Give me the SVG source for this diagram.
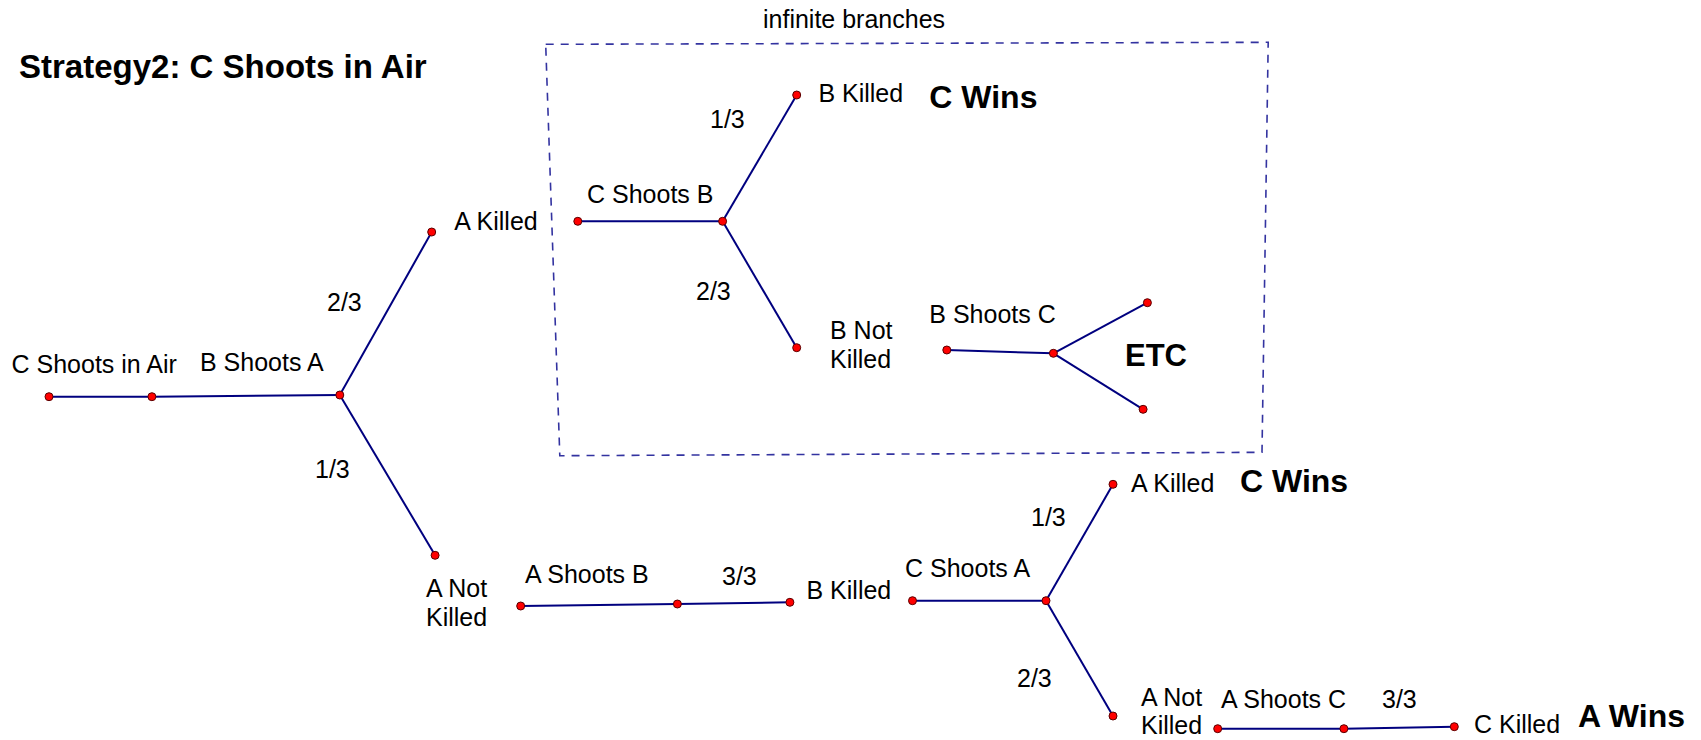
<svg xmlns="http://www.w3.org/2000/svg" width="1701" height="740" viewBox="0 0 1701 740">
<style>
.t{font-family:"Liberation Sans",Arial,sans-serif;font-size:25px;fill:#000}
.b{font-family:"Liberation Sans",Arial,sans-serif;font-size:32px;font-weight:bold;fill:#000}
.e{fill:none;stroke:#00007f;stroke-width:2;stroke-linejoin:round}
.d{fill:#ff0000;stroke:#5a0000;stroke-width:1}
.box{fill:none;stroke:#3333a0;stroke-width:1.6;stroke-dasharray:8 7}
</style>
<rect width="1701" height="740" fill="#fff"/>
<text class="b" x="19" y="78" style="font-size:33px">Strategy2: C Shoots in Air</text>
<text class="t" x="763" y="28">infinite branches</text>
<polygon class="box" points="545.7,44.3 1268.2,42.3 1262,452.3 559.8,455.7"/>
<g id="connectors">
<polyline class="e" points="49,396.7 151.9,396.7 339.8,395"/>
<line class="e" x1="339.8" y1="395" x2="431.7" y2="232"/>
<line class="e" x1="339.8" y1="395" x2="435.1" y2="555.3"/>
<line class="e" x1="577.8" y1="221.3" x2="722.6" y2="221.3"/>
<line class="e" x1="722.6" y1="221.3" x2="796.7" y2="95"/>
<line class="e" x1="722.6" y1="221.3" x2="796.7" y2="347.7"/>
<line class="e" x1="946.8" y1="350" x2="1053.4" y2="353.3"/>
<line class="e" x1="1053.4" y1="353.3" x2="1147.4" y2="302.7"/>
<line class="e" x1="1053.4" y1="353.3" x2="1143.1" y2="409.3"/>
<polyline class="e" points="520.7,606 677.4,604 789.9,602.3"/>
<line class="e" x1="912.5" y1="600.7" x2="1046" y2="600.7"/>
<line class="e" x1="1046" y1="600.7" x2="1113" y2="484.3"/>
<line class="e" x1="1046" y1="600.7" x2="1113" y2="716"/>
<polyline class="e" points="1217.7,728.7 1343.9,728.7 1454.3,726.7"/>
<text class="t" x="327" y="311">2/3</text>
<text class="t" x="315" y="478">1/3</text>
<text class="t" x="710" y="128">1/3</text>
<text class="t" x="696" y="300">2/3</text>
<text class="t" x="722" y="585">3/3</text>
<text class="t" x="1031" y="526">1/3</text>
<text class="t" x="1017" y="687">2/3</text>
<text class="t" x="1382" y="708">3/3</text>
</g>
<g id="n-c-air"><circle class="d" cx="49" cy="396.7" r="4"/><text class="t" x="11.5" y="373">C Shoots in Air</text></g>
<g id="n-b-shoots-a"><circle class="d" cx="151.9" cy="396.7" r="4"/><text class="t" x="200" y="371">B Shoots A</text></g>
<g id="n-j1"><circle class="d" cx="339.8" cy="395" r="4"/></g>
<g id="n-a-killed-1"><circle class="d" cx="431.7" cy="232" r="4"/><text class="t" x="454.3" y="230">A Killed</text></g>
<g id="n-a-notkilled-1"><circle class="d" cx="435.1" cy="555.3" r="4"/><text class="t" x="426" y="597">A Not</text><text class="t" x="426" y="626">Killed</text></g>
<g id="n-c-shoots-b"><circle class="d" cx="577.8" cy="221.3" r="4"/><text class="t" x="587" y="203">C Shoots B</text></g>
<g id="n-j2"><circle class="d" cx="722.6" cy="221.3" r="4"/></g>
<g id="n-b-killed-1"><circle class="d" cx="796.7" cy="95" r="4"/><text class="t" x="818.4" y="102">B Killed</text><text class="b" x="929.3" y="108">C Wins</text></g>
<g id="n-b-notkilled"><circle class="d" cx="796.7" cy="347.7" r="4"/><text class="t" x="830" y="339">B Not</text><text class="t" x="830" y="368">Killed</text></g>
<g id="n-b-shoots-c"><circle class="d" cx="946.8" cy="350" r="4"/><text class="t" x="929.3" y="323">B Shoots C</text></g>
<g id="n-j3"><circle class="d" cx="1053.4" cy="353.3" r="4"/></g>
<g id="n-etc1"><circle class="d" cx="1147.4" cy="302.7" r="4"/></g>
<g id="n-etc2"><circle class="d" cx="1143.1" cy="409.3" r="4"/><text class="b" x="1125" y="366" style="font-size:31px">ETC</text></g>
<g id="n-a-shoots-b"><circle class="d" cx="520.7" cy="606" r="4"/><text class="t" x="525" y="583">A Shoots B</text></g>
<g id="n-j4"><circle class="d" cx="677.4" cy="604" r="4"/></g>
<g id="n-b-killed-2"><circle class="d" cx="789.9" cy="602.3" r="4"/><text class="t" x="806.5" y="599">B Killed</text></g>
<g id="n-c-shoots-a"><circle class="d" cx="912.5" cy="600.7" r="4"/><text class="t" x="905" y="577">C Shoots A</text></g>
<g id="n-j5"><circle class="d" cx="1046" cy="600.7" r="4"/></g>
<g id="n-a-killed-2"><circle class="d" cx="1113" cy="484.3" r="4"/><text class="t" x="1131" y="492">A Killed</text><text class="b" x="1240" y="492">C Wins</text></g>
<g id="n-a-notkilled-2"><circle class="d" cx="1113" cy="716" r="4"/><text class="t" x="1141" y="706">A Not</text><text class="t" x="1141" y="734">Killed</text></g>
<g id="n-a-shoots-c"><circle class="d" cx="1217.7" cy="728.7" r="4"/><text class="t" x="1221" y="708">A Shoots C</text></g>
<g id="n-j6"><circle class="d" cx="1343.9" cy="728.7" r="4"/></g>
<g id="n-c-killed"><circle class="d" cx="1454.3" cy="726.7" r="4"/><text class="t" x="1474" y="733">C Killed</text><text class="b" x="1578" y="727">A Wins</text></g>
</svg>
